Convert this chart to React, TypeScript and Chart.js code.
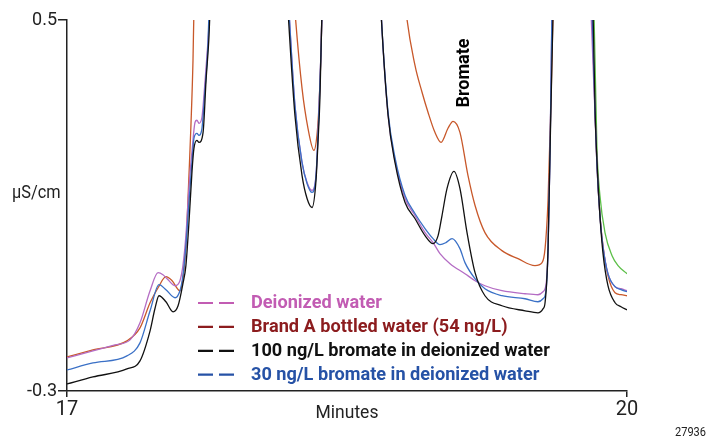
import React, { useEffect, useRef } from "react";
import { Chart, registerables } from "chart.js";

Chart.register(...registerables);

// Retention time (min) and conductivity (µS/cm) for each trace.
// Points above 0.5 are off-scale peak tops and get clipped by the plot area.
const deionizedTime = [17.000, 17.139, 17.257, 17.338, 17.391, 17.445, 17.488, 17.514, 17.536, 17.579, 17.605, 17.621, 17.637, 17.654, 17.670, 17.686, 17.696, 17.707, 17.723, 17.739, 17.755, 17.766, 17.975, 18.189, 18.221, 18.259, 18.286, 18.313, 18.334, 18.350, 18.361, 18.366, 18.521, 18.682, 18.720, 18.757, 18.811, 18.864, 18.918, 18.961, 18.998, 19.052, 19.132, 19.186, 19.239, 19.330, 19.454, 19.523, 19.550, 19.566, 19.577, 19.588, 19.598, 19.705, 19.807, 19.829, 19.839, 19.855, 19.871, 19.898, 19.936, 19.968, 20.000];
const deionizedSignal = [-0.2286, -0.2135, -0.2005, -0.1897, -0.1530, -0.0838, -0.0449, -0.0492, -0.0578, -0.0730, -0.0622, -0.0297, 0.0351, 0.1432, 0.2189, 0.2795, 0.2838, 0.2773, 0.2903, 0.3659, 0.4524, 0.5216, 2.0, 0.52, 0.3162, 0.1930, 0.1497, 0.1324, 0.1649, 0.3054, 0.4351, 0.52, 2.0, 0.52, 0.2946, 0.1973, 0.1151, 0.0784, 0.0416, 0.0200, -0.0038, -0.0254, -0.0470, -0.0622, -0.0730, -0.0838, -0.0903, -0.0924, -0.0859, -0.0708, 0.0027, 0.2189, 0.52, 2.0, 0.52, 0.2946, 0.1865, 0.0784, 0.0135, -0.0470, -0.0751, -0.0795, -0.0838];

const bottledTime = [17.000, 17.139, 17.321, 17.391, 17.445, 17.488, 17.530, 17.563, 17.605, 17.621, 17.637, 17.654, 17.664, 17.675, 17.680, 17.975, 18.221, 18.259, 18.291, 18.323, 18.339, 18.350, 18.361, 18.366, 18.521, 18.816, 18.864, 18.902, 18.934, 18.971, 19.004, 19.041, 19.068, 19.105, 19.148, 19.186, 19.239, 19.330, 19.416, 19.507, 19.545, 19.561, 19.577, 19.593, 19.604, 19.705, 19.813, 19.829, 19.839, 19.855, 19.871, 19.898, 19.936, 19.968, 20.000];
const bottledSignal = [-0.2265, -0.2114, -0.1919, -0.1638, -0.1097, -0.0773, -0.0535, -0.0622, -0.0838, -0.0578, 0.0135, 0.1714, 0.2730, 0.4135, 0.52, 2.0, 0.52, 0.3530, 0.2665, 0.2189, 0.2514, 0.3162, 0.4351, 0.52, 2.0, 0.52, 0.4027, 0.3443, 0.3011, 0.2578, 0.2362, 0.2665, 0.2816, 0.2578, 0.1649, 0.1000, 0.0416, 0.0027, -0.0146, -0.0297, -0.0232, 0.0070, 0.1108, 0.3270, 0.52, 2.0, 0.52, 0.2946, 0.1865, 0.0784, 0.0135, -0.0514, -0.0881, -0.0924, -0.0946];

const spike100Time = [17.000, 17.139, 17.321, 17.391, 17.445, 17.471, 17.493, 17.530, 17.568, 17.595, 17.621, 17.637, 17.654, 17.670, 17.680, 17.696, 17.707, 17.729, 17.745, 17.761, 17.766, 17.975, 18.184, 18.221, 18.259, 18.286, 18.313, 18.334, 18.345, 18.355, 18.366, 18.521, 18.682, 18.720, 18.757, 18.811, 18.864, 18.918, 18.961, 18.988, 19.009, 19.036, 19.073, 19.105, 19.143, 19.186, 19.239, 19.330, 19.454, 19.523, 19.550, 19.561, 19.577, 19.588, 19.604, 19.705, 19.818, 19.829, 19.839, 19.855, 19.871, 19.898, 19.936, 19.968, 20.000];
const spike100Signal = [-0.2849, -0.2697, -0.2524, -0.2351, -0.1703, -0.1227, -0.0946, -0.1076, -0.1292, -0.1162, -0.0686, -0.0297, 0.0676, 0.1757, 0.2232, 0.2405, 0.2362, 0.2578, 0.3703, 0.4676, 0.52, 2.0, 0.52, 0.2946, 0.1649, 0.1151, 0.0957, 0.1541, 0.2405, 0.3314, 0.52, 2.0, 0.52, 0.2946, 0.1930, 0.1065, 0.0719, 0.0351, 0.0178, 0.0351, 0.0784, 0.1368, 0.1735, 0.1368, 0.0416, -0.0449, -0.0946, -0.1162, -0.1270, -0.1314, -0.1227, -0.1097, 0.0070, 0.2232, 0.52, 2.0, 0.52, 0.3054, 0.1973, 0.0784, -0.0016, -0.0730, -0.1097, -0.1184, -0.1249];

const spike30Time = [17.000, 17.139, 17.321, 17.391, 17.445, 17.493, 17.530, 17.579, 17.605, 17.621, 17.637, 17.654, 17.670, 17.680, 17.696, 17.707, 17.723, 17.739, 17.755, 17.761, 17.975, 18.189, 18.221, 18.259, 18.286, 18.313, 18.334, 18.350, 18.361, 18.366, 18.521, 18.682, 18.720, 18.757, 18.811, 18.864, 18.918, 18.961, 18.998, 19.030, 19.063, 19.105, 19.132, 19.186, 19.239, 19.330, 19.454, 19.523, 19.550, 19.566, 19.577, 19.588, 19.598, 19.705, 19.813, 19.829, 19.839, 19.855, 19.871, 19.898, 19.936, 19.968, 20.000];
const spike30Signal = [-0.2546, -0.2395, -0.2243, -0.1962, -0.1270, -0.0708, -0.0816, -0.0989, -0.0838, -0.0514, 0.0135, 0.1108, 0.1973, 0.2449, 0.2557, 0.2514, 0.2665, 0.3486, 0.4459, 0.52, 2.0, 0.52, 0.3162, 0.1930, 0.1476, 0.1281, 0.1649, 0.3054, 0.4351, 0.52, 2.0, 0.52, 0.3011, 0.2038, 0.1216, 0.0827, 0.0503, 0.0286, 0.0157, 0.0200, 0.0286, 0.0070, -0.0232, -0.0578, -0.0795, -0.0946, -0.1011, -0.1076, -0.1011, -0.0838, 0.0027, 0.2189, 0.52, 2.0, 0.52, 0.2946, 0.1865, 0.0784, 0.0114, -0.0470, -0.0751, -0.0816, -0.0859];

// Extra trace that only separates from the others after the last peak.
const extraTime = [19.705, 19.823, 19.839, 19.855, 19.882, 19.920, 19.952, 20.000];
const extraSignal = [2.0, 0.52, 0.2232, 0.1216, 0.0416, -0.0081, -0.0297, -0.0470];

const seriesLabels = [
  "Deionized water",
  "Brand A bottled water (54 ng/L)",
  "100 ng/L bromate in deionized water",
  "30 ng/L bromate in deionized water",
];
const lineColors = ["#B46CC4", "#C8582A", "#111111", "#3A70C6"];
const legendColors = ["#C25CB3", "#8C1C1E", "#111111", "#2652A6"];
const extraColor = "#5CBF48";

const xTickValues = [17, 20];
const yTickValues = [-0.3, 0.5];
const xAxisTitle = "Minutes";
const yAxisTitle = "µS/cm";
const peakLabel = "Bromate";
const peakTime = 19.073;
const figureId = "27936";

const FONT = "Roboto, 'Liberation Sans', sans-serif";

const pairs = (t: number[], s: number[]) => t.map((x, i) => ({ x, y: s[i] }));

// Draws text squeezed horizontally to mimic a condensed face.
function narrowText(ctx: CanvasRenderingContext2D, text: string, x: number, y: number, sx: number) {
  ctx.save();
  ctx.translate(x, y);
  ctx.scale(sx, 1);
  ctx.fillText(text, 0, 0);
  ctx.restore();
}

const annotationPlugin = {
  id: "chromAnnotations",
  afterDraw(chart: any) {
    const { ctx, scales } = chart;
    ctx.save();
    ctx.fillStyle = "#222";
    ctx.font = `19px ${FONT}`;
    ctx.textAlign = "left";
    ctx.textBaseline = "alphabetic";
    narrowText(ctx, yAxisTitle, 12, 198, 0.86);

    ctx.textAlign = "center";
    narrowText(ctx, xAxisTitle, 347, 418, 0.92);

    ctx.font = `12px ${FONT}`;
    ctx.textAlign = "left";
    narrowText(ctx, figureId, 675, 436, 0.92);

    // vertical peak label above the bromate peak
    const px = scales.x.getPixelForValue(peakTime);
    ctx.save();
    ctx.translate(px + 15, 73);
    ctx.rotate(-Math.PI / 2);
    ctx.font = `bold 19px ${FONT}`;
    ctx.fillStyle = "#000";
    ctx.textAlign = "center";
    ctx.textBaseline = "alphabetic";
    ctx.scale(0.95, 1);
    ctx.fillText(peakLabel, 0, 0);
    ctx.restore();

    // legend: two short dashes then the label
    seriesLabels.forEach((label, i) => {
      const dashY = 303 + i * 23.9;
      ctx.strokeStyle = legendColors[i];
      ctx.lineWidth = 2.2;
      ctx.beginPath();
      ctx.moveTo(198, dashY);
      ctx.lineTo(213, dashY);
      ctx.moveTo(219, dashY);
      ctx.lineTo(234, dashY);
      ctx.stroke();
      ctx.fillStyle = legendColors[i];
      ctx.font = `bold 19px ${FONT}`;
      ctx.textAlign = "left";
      ctx.textBaseline = "alphabetic";
      narrowText(ctx, label, 251, 307.5 + i * 24, 0.955);
    });
    ctx.restore();
  },
};

export default function App() {
  const ref = useRef<HTMLCanvasElement>(null);

  useEffect(() => {
    if (!ref.current) return;
    const line = (data: any, color: string, order: number, label: string) => ({
      label,
      data,
      borderColor: color,
      backgroundColor: color,
      borderWidth: 1.3,
      pointRadius: 0,
      fill: false,
      cubicInterpolationMode: "monotone" as const,
      order,
    });

    const chart = new Chart(ref.current, {
      type: "line",
      data: {
        datasets: [
          line(pairs(extraTime, extraSignal), extraColor, 5, ""),
          line(pairs(bottledTime, bottledSignal), lineColors[1], 4, seriesLabels[1]),
          line(pairs(deionizedTime, deionizedSignal), lineColors[0], 3, seriesLabels[0]),
          line(pairs(spike30Time, spike30Signal), lineColors[3], 2, seriesLabels[3]),
          line(pairs(spike100Time, spike100Signal), lineColors[2], 1, seriesLabels[2]),
        ],
      },
      options: {
        responsive: false,
        devicePixelRatio: 1,
        animation: false,
        layout: { padding: { top: 20, right: 98, left: 0, bottom: 0 } },
        plugins: { legend: { display: false }, tooltip: { enabled: false } },
        scales: {
          x: {
            type: "linear",
            min: 17,
            max: 20,
            afterBuildTicks: (s: any) => {
              s.ticks = xTickValues.map((v) => ({ value: v }));
            },
            afterFit: (s: any) => {
              s.height = 46;
            },
            grid: { drawOnChartArea: false, drawTicks: true, tickLength: 6, color: "#222", lineWidth: 1.5 },
            border: { display: true, color: "#222", width: 1.5 },
            ticks: {
              color: "#222",
              font: { family: FONT, size: 20 },
              padding: 1,
              maxRotation: 0,
              autoSkip: false,
              callback: (v: any) => String(v),
            },
          },
          y: {
            type: "linear",
            min: -0.3,
            max: 0.5,
            afterBuildTicks: (s: any) => {
              s.ticks = yTickValues.map((v) => ({ value: v }));
            },
            afterFit: (s: any) => {
              s.width = 67;
            },
            grid: { drawOnChartArea: false, drawTicks: true, tickLength: 9, color: "#222", lineWidth: 1.5 },
            border: { display: true, color: "#222", width: 1.5 },
            ticks: {
              color: "#222",
              font: { family: FONT, size: 18 },
              padding: 1,
              autoSkip: false,
              callback: (v: any) => Number(v).toFixed(1),
            },
          },
        },
      },
      plugins: [annotationPlugin],
    });
    return () => chart.destroy();
  }, []);

  return (
    <div style={{ position: "absolute", left: 0, top: 0, width: 725, height: 437, background: "#fff" }}>
      <canvas ref={ref} width={725} height={437} style={{ display: "block", width: 725, height: 437 }} />
    </div>
  );
}
